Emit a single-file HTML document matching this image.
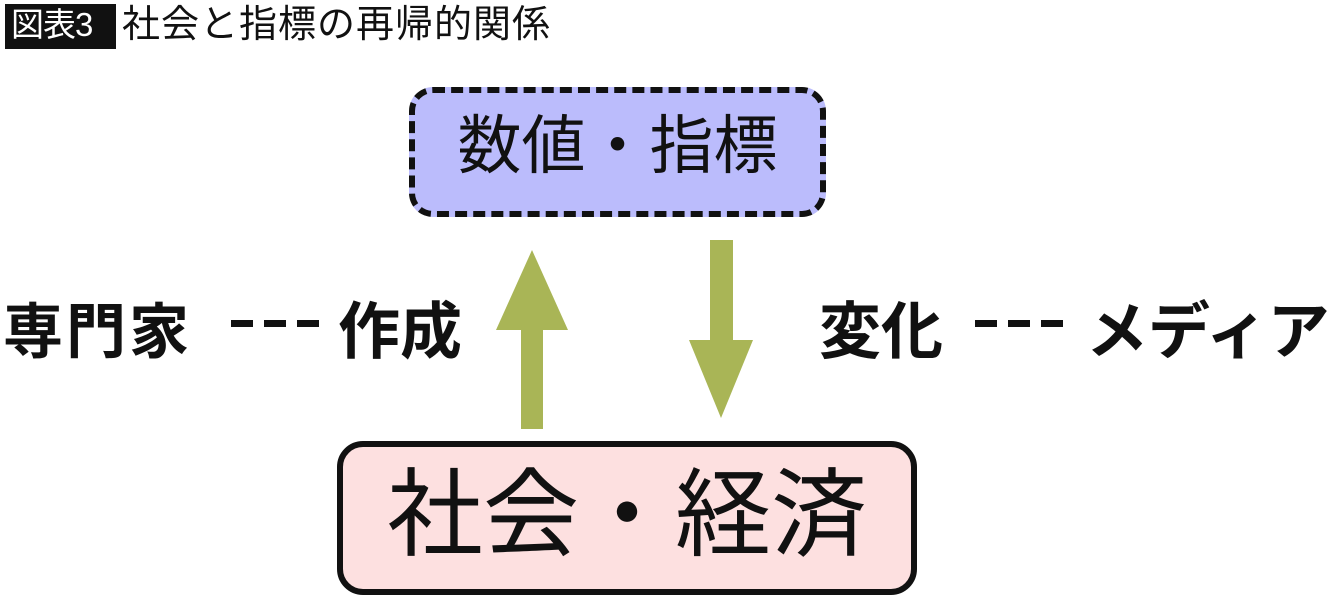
<!DOCTYPE html>
<html><head><meta charset="utf-8"><style>
body{margin:0;width:1340px;height:610px;background:#fff;position:relative;overflow:hidden;font-family:"Liberation Sans","Noto Sans CJK JP",sans-serif;}
.a{position:absolute;white-space:nowrap;}
.d{position:absolute;height:7px;width:22px;background:#111;}
</style></head><body>
<div class="a" style="left:5px;top:4px;width:111px;height:45px;background:#111;"></div>
<div class="a" style="left:11px;top:2px;font-size:33px;line-height:46px;color:#fff;letter-spacing:-1px;">図表3</div>
<div class="a" style="left:122px;top:2px;font-size:38px;line-height:46px;color:#111;letter-spacing:1px;">社会と指標の再帰的関係</div>
<div class="a" style="left:409px;top:87px;width:405px;height:118px;background:#bbbcfc;border:6px dashed #111;border-radius:24px;"></div>
<div class="a" style="left:409px;top:87px;width:417px;height:124px;font-size:64px;line-height:118px;text-align:center;color:#111;">数値・指標</div>
<div class="a" style="left:337px;top:441px;width:568px;height:142px;background:#fde0e0;border:6px solid #111;border-radius:26px;"></div>
<div class="a" style="left:337px;top:441px;width:580px;height:154px;font-size:96px;line-height:150px;text-align:center;color:#111;">社会・経済</div>
<svg class="a" style="left:0;top:0" width="1340" height="610">
<rect x="521" y="328" width="22" height="101" fill="#a9b556"/>
<polygon points="496,330 568,330 532,250" fill="#a9b556"/>
<rect x="710" y="240" width="23" height="102" fill="#a9b556"/>
<polygon points="689,340 753,340 721,418" fill="#a9b556"/>
</svg>
<div class="a" style="left:3px;top:298px;font-size:60px;line-height:70px;font-weight:bold;color:#111;letter-spacing:3px;">専門家</div>
<div class="d" style="left:231px;top:320px"></div><div class="d" style="left:264px;top:320px"></div><div class="d" style="left:297px;top:320px"></div>
<div class="a" style="left:338px;top:298px;font-size:62px;line-height:70px;font-weight:bold;color:#111;">作成</div>
<div class="a" style="left:819px;top:298px;font-size:62px;line-height:70px;font-weight:bold;color:#111;">変化</div>
<div class="d" style="left:975px;top:320px"></div><div class="d" style="left:1008px;top:320px"></div><div class="d" style="left:1041px;top:320px"></div>
<div class="a" style="left:1086px;top:298px;font-size:62px;line-height:70px;font-weight:bold;color:#111;">メディア</div>
</body></html>
